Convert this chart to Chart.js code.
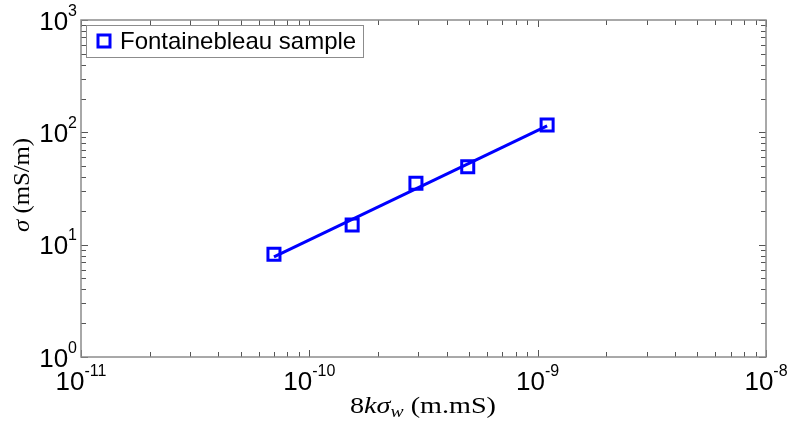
<!DOCTYPE html>
<html lang="en">
<head>
    <meta charset="UTF-8">
    <title>Fontainebleau sample</title>
    <script src="https://cdn.jsdelivr.net/npm/chart.js"></script>
    <style>
        body { margin: 0; background: #fff; }
        canvas { display: block; }
    </style>
</head>
<body>
    <canvas id="conductChart" width="789" height="425"></canvas>

    <script>
        // values
        const seriesLabel = 'Fontainebleau sample';
        const xSample = [7.0e-11, 1.54e-10, 2.93e-10, 4.94e-10, 1.1e-9];
        const ySample = [8.2, 15.0, 35.2, 49.5, 116];
        const xFit = [7.0e-11, 1.1e-9];
        const yFit = [7.8, 114];
        const xTickExps = [-11, -10, -9, -8];
        const yTickExps = [0, 1, 2, 3];

        const blue = '#0000ff';
        const axisGray = '#8c8c8c';

        function toPoints(xs, ys) {
            return xs.map((x, i) => ({ x: x, y: ys[i] }));
        }

        // "10" with a raised exponent
        function drawPow(ctx, exp, x, baseline, align) {
            const base = '10';
            const sup = String(exp);
            ctx.font = '26px "Liberation Sans", Arial, sans-serif';
            const wb = ctx.measureText(base).width;
            ctx.font = '16px "Liberation Sans", Arial, sans-serif';
            const ws = ctx.measureText(sup).width;
            let left = x;
            if (align === 'center') left = x - (wb + ws) / 2;
            if (align === 'right') left = x - (wb + ws);
            ctx.textAlign = 'left';
            ctx.textBaseline = 'alphabetic';
            ctx.fillStyle = '#000';
            ctx.font = '26px "Liberation Sans", Arial, sans-serif';
            ctx.fillText(base, left, baseline);
            ctx.font = '16px "Liberation Sans", Arial, sans-serif';
            ctx.fillText(sup, left + wb, baseline - 14);
        }

        // draws pieces of text one after another, returns total width
        function runText(ctx, parts, x, y, measureOnly) {
            let cx = x;
            parts.forEach(p => {
                ctx.font = p.font;
                const w = ctx.measureText(p.t).width;
                if (!measureOnly) ctx.fillText(p.t, cx, y + (p.dy || 0));
                cx += w;
            });
            return cx - x;
        }

        // latex-like label, stretched a bit to the width of the original
        function drawTitle(ctx, parts, cx, cy, targetW) {
            const w = runText(ctx, parts, 0, 0, true);
            const sx = targetW / w;
            ctx.save();
            ctx.translate(cx, cy);
            ctx.scale(sx, 1);
            runText(ctx, parts, -w / 2, 0, false);
            ctx.restore();
        }

        const serif = '"Liberation Serif", "DejaVu Serif", serif';

        const matlabAxes = {
            id: 'matlabAxes',
            afterDatasetsDraw(chart) {
                const ctx = chart.ctx;
                const a = chart.chartArea;
                const xs = chart.scales.x;
                const ys = chart.scales.y;
                ctx.save();

                // ticks on all four sides, pointing inward
                ctx.strokeStyle = '#555';
                ctx.lineWidth = 1;
                ctx.beginPath();
                for (let i = 0; i < xTickExps.length; i++) {
                    for (let m = 1; m <= 9; m++) {
                        const v = m * Math.pow(10, xTickExps[i]);
                        if (v > xs.max * 1.0001) continue;
                        const px = Math.round(xs.getPixelForValue(v)) + 0.5;
                        const len = m === 1 ? 7 : 5;
                        ctx.moveTo(px, a.bottom); ctx.lineTo(px, a.bottom - len);
                        ctx.moveTo(px, a.top); ctx.lineTo(px, a.top + len);
                    }
                }
                for (let i = 0; i < yTickExps.length; i++) {
                    for (let m = 1; m <= 9; m++) {
                        const v = m * Math.pow(10, yTickExps[i]);
                        if (v > ys.max * 1.0001) continue;
                        const py = Math.round(ys.getPixelForValue(v)) + 0.5;
                        const len = m === 1 ? 7 : 5;
                        ctx.moveTo(a.left, py); ctx.lineTo(a.left + len, py);
                        ctx.moveTo(a.right, py); ctx.lineTo(a.right - len, py);
                    }
                }
                ctx.stroke();

                // axes box
                ctx.strokeStyle = axisGray;
                ctx.lineWidth = 1.5;
                ctx.strokeRect(a.left, a.top, a.right - a.left, a.bottom - a.top);

                // tick labels
                xTickExps.forEach(e => {
                    drawPow(ctx, e, xs.getPixelForValue(Math.pow(10, e)), 390, 'center');
                });
                yTickExps.forEach(e => {
                    drawPow(ctx, e, a.left - 4, ys.getPixelForValue(Math.pow(10, e)) + 9.5, 'right');
                });

                // axis titles
                ctx.fillStyle = '#000';
                ctx.textAlign = 'left';
                ctx.textBaseline = 'alphabetic';
                drawTitle(ctx, [
                    { t: '8', font: '23px ' + serif },
                    { t: 'k\u03c3', font: 'italic 23px ' + serif },
                    { t: 'w', font: 'italic 16px ' + serif, dy: 4 },
                    { t: ' (m.mS)', font: '23px ' + serif }
                ], 423, 413, 146);

                ctx.save();
                ctx.translate(29, 185);
                ctx.rotate(-Math.PI / 2);
                drawTitle(ctx, [
                    { t: '\u03c3', font: 'italic 23px ' + serif },
                    { t: ' (mS/m)', font: '23px ' + serif }
                ], 0, 0, 94);
                ctx.restore();

                // legend box
                const lx = 86, ly = 25, lw = 277, lh = 32;
                ctx.fillStyle = '#fff';
                ctx.fillRect(lx, ly, lw, lh);
                ctx.strokeStyle = axisGray;
                ctx.lineWidth = 1;
                ctx.strokeRect(lx + 0.5, ly + 0.5, lw, lh);
                ctx.strokeStyle = blue;
                ctx.lineWidth = 3;
                ctx.strokeRect(98, 35, 12, 12);
                ctx.fillStyle = '#000';
                ctx.font = '24px "Liberation Sans", Arial, sans-serif';
                ctx.textBaseline = 'middle';
                ctx.fillText(chart.data.datasets[1].label, 120, 42);

                ctx.restore();
            }
        };

        new Chart(document.getElementById('conductChart'), {
            type: 'scatter',
            data: {
                datasets: [
                    {
                        label: 'fit',
                        data: toPoints(xFit, yFit),
                        showLine: true,
                        borderColor: blue,
                        borderWidth: 3,
                        pointRadius: 0,
                        fill: false
                    },
                    {
                        label: seriesLabel,
                        data: toPoints(xSample, ySample),
                        showLine: false,
                        pointStyle: 'rect',
                        pointRadius: 8.5,
                        pointBorderWidth: 3,
                        pointBorderColor: blue,
                        pointBackgroundColor: 'rgba(0,0,0,0)'
                    }
                ]
            },
            options: {
                responsive: false,
                animation: false,
                layout: { padding: { left: 81, right: 23, top: 20, bottom: 68 } },
                plugins: {
                    legend: { display: false },
                    tooltip: { enabled: false }
                },
                scales: {
                    x: { type: 'logarithmic', min: 1e-11, max: 1e-8, display: false },
                    y: { type: 'logarithmic', min: 1, max: 1000, display: false }
                }
            },
            plugins: [matlabAxes]
        });
    </script>
</body>
</html>
